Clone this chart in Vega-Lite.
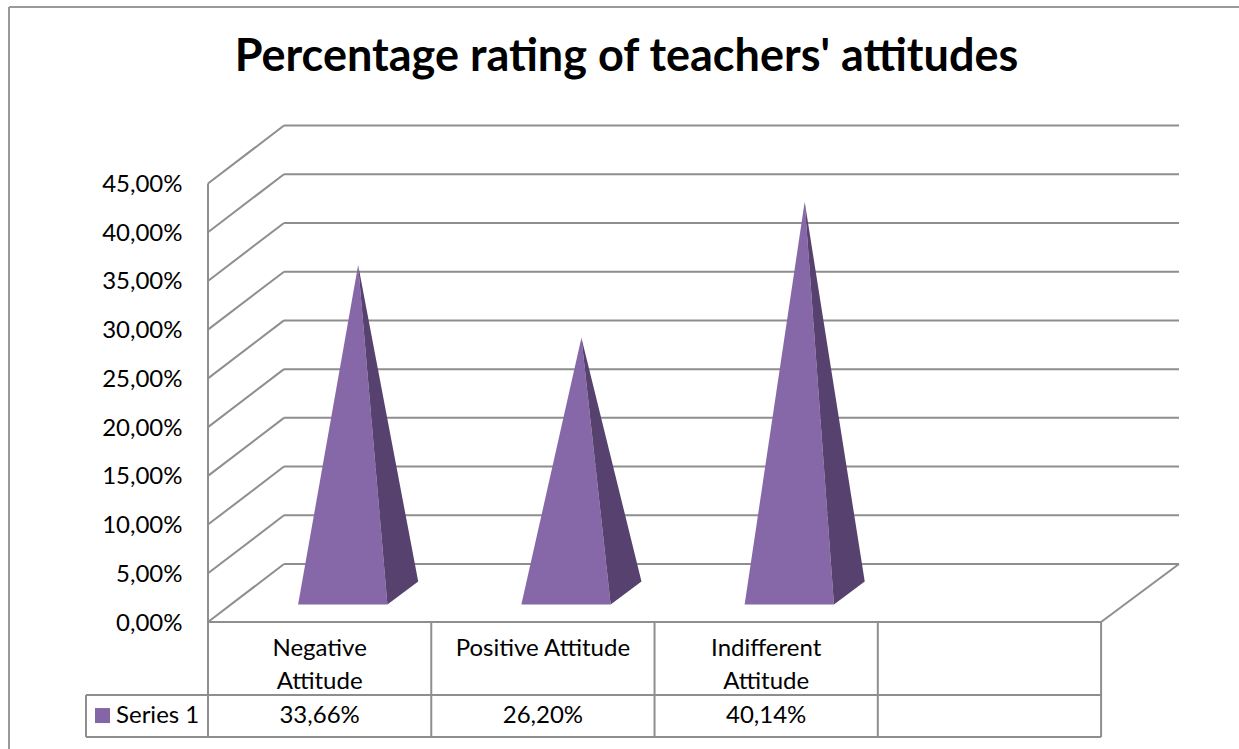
{
"$schema":"https://vega.github.io/schema/vega-lite/v6.json",
"autosize":"none",
"width":971,"height":496,
"padding":{"left":208,"top":126,"right":60,"bottom":127},
"background":"white",
"title":{"text":"Percentage rating of teachers' attitudes","font":"Lato","fontSize":45,"fontWeight":"bold","color":"#000000","anchor":"middle","frame":"group","dx":-67,"baseline":"alphabetic","offset":-110},
"config":{"view":{"stroke":null},"text":{"font":"Lato"},"axisY":{"grid":false,"domain":false,"ticks":false,"title":null,"labelFont":"Lato","labelFontSize":24,"labelColor":"#000000","labelPadding":26,"labelFlush":false,"labelOverlap":false,"labelOffset":1}},
"datasets":{
"attitudes":[
{"attitude":"Negative Attitude","label":"Negative\nAttitude","slot":0,"pct":33.66},
{"attitude":"Positive Attitude","label":"Positive Attitude","slot":1,"pct":26.20},
{"attitude":"Indifferent Attitude","label":"Indifferent\nAttitude","slot":2,"pct":40.14}
],
"ticks":[{"pct":0},{"pct":5},{"pct":10},{"pct":15},{"pct":20},{"pct":25},{"pct":30},{"pct":35},{"pct":40},{"pct":45}],
"columns":[{"slot":0},{"slot":1},{"slot":2},{"slot":3},{"slot":4}],
"tableRows":[{"row":-7.49},{"row":-11.8}]
},
"layer":[
{"data":{"values":[{}]},"mark":{"type":"rule","color":"#999999","strokeWidth":2},
 "encoding":{"x":{"datum":-0.8913,"type":"quantitative","scale":{"domain":[0,4.349],"nice":false,"zero":false},"axis":null},"x2":{"datum":4.618},
 "y":{"datum":63.12,"type":"quantitative","scale":{"domain":[0,50.9],"nice":false,"zero":false},"axis":{"values":[0,5,10,15,20,25,30,35,40,45],"labelExpr":"replace(format(datum.value,'.2f'),'.',',')+'%'","title":null}}}},
{"data":{"values":[{}]},"mark":{"type":"rule","color":"#999999","strokeWidth":2},
 "encoding":{"x":{"datum":-0.8913,"type":"quantitative","axis":null},"y":{"datum":63.12,"type":"quantitative"},"y2":{"datum":-13.03}}},
{"data":{"name":"ticks"},"transform":[{"calculate":"datum.pct+5.95","as":"back"}],"mark":{"type":"rule","color":"#8E8E8E","strokeWidth":2},
 "encoding":{"x":{"datum":0.3404,"type":"quantitative","axis":null},"x2":{"datum":4.349},"y":{"field":"back","type":"quantitative"}}},
{"data":{"name":"ticks"},"transform":[{"calculate":"datum.pct+5.95","as":"back"}],"mark":{"type":"rule","color":"#8E8E8E","strokeWidth":2},
 "encoding":{"x":{"datum":0,"type":"quantitative","axis":null},"x2":{"datum":0.3404},"y":{"field":"pct","type":"quantitative"},"y2":{"field":"back"}}},
{"data":{"values":[{}]},"mark":{"type":"rule","color":"#8E8E8E","strokeWidth":2},
 "encoding":{"x":{"datum":4,"type":"quantitative","axis":null},"x2":{"datum":4.349},"y":{"datum":0,"type":"quantitative"},"y2":{"datum":5.95}}},
{"data":{"values":[{}]},"mark":{"type":"rule","color":"#8E8E8E","strokeWidth":2},
 "encoding":{"x":{"datum":0,"type":"quantitative","axis":null},"y":{"datum":0,"type":"quantitative"},"y2":{"datum":45}}},
{"data":{"values":[{}]},"mark":{"type":"rule","color":"#8E8E8E","strokeWidth":2},
 "encoding":{"x":{"datum":0,"type":"quantitative","axis":null},"x2":{"datum":4},"y":{"datum":0,"type":"quantitative"}}},
{"data":{"name":"columns"},"mark":{"type":"rule","color":"#8E8E8E","strokeWidth":2},
 "encoding":{"x":{"field":"slot","type":"quantitative","axis":null},"y":{"datum":0,"type":"quantitative"},"y2":{"datum":-11.8}}},
{"data":{"name":"tableRows"},"mark":{"type":"rule","color":"#8E8E8E","strokeWidth":2},
 "encoding":{"x":{"datum":-0.5464,"type":"quantitative","axis":null},"x2":{"datum":4},"y":{"field":"row","type":"quantitative"}}},
{"data":{"values":[{}]},"mark":{"type":"rule","color":"#8E8E8E","strokeWidth":2},
 "encoding":{"x":{"datum":-0.5464,"type":"quantitative","axis":null},"y":{"datum":-7.49,"type":"quantitative"},"y2":{"datum":-11.8}}},
{"data":{"name":"attitudes"},
 "transform":[
  {"calculate":"[0,1,2]","as":"v"},{"flatten":["v"]},
  {"calculate":"datum.v==0?datum.slot+0.5-0.2+0.3*0.345:datum.v==1?datum.slot+0.5+0.5*0.345:datum.slot+0.5+0.2+0.3*0.345","as":"px"},
  {"calculate":"datum.v==1?datum.pct+0.5*5.95:0.3*5.95","as":"top"},
  {"calculate":"0.3*5.95","as":"base"}
 ],
 "mark":{"type":"area","orient":"vertical","color":"#8668A8","interpolate":"linear"},
 "encoding":{"x":{"field":"px","type":"quantitative","axis":null},"y":{"field":"top","type":"quantitative"},"y2":{"field":"base"},"detail":{"field":"slot"}}},
{"data":{"name":"attitudes"},
 "transform":[
  {"calculate":"[0,1,2]","as":"v"},{"flatten":["v"]},
  {"calculate":"datum.pct+0.5*5.95","as":"apex"},
  {"calculate":"datum.v==0?datum.slot+0.5+0.5*0.345:datum.v==1?datum.slot+0.5+0.2+0.3*0.345:datum.slot+0.5+0.2+0.7*0.345","as":"px"},
  {"calculate":"datum.v==0?datum.apex:datum.v==1?datum.apex+(0.7*5.95-datum.apex)*0.487:0.7*5.95","as":"top"},
  {"calculate":"datum.v==0?datum.apex:datum.v==1?0.3*5.95:0.7*5.95","as":"base"}
 ],
 "mark":{"type":"area","orient":"vertical","color":"#57426F","interpolate":"linear"},
 "encoding":{"x":{"field":"px","type":"quantitative","axis":null},"y":{"field":"top","type":"quantitative"},"y2":{"field":"base"},"detail":{"field":"slot"}}},
{"data":{"name":"attitudes"},"transform":[{"calculate":"datum.slot+0.5","as":"mid"}],
 "mark":{"type":"text","font":"Lato","fontSize":24,"color":"#000000","align":"center","baseline":"top","lineBreak":"\n","lineHeight":33},
 "encoding":{"x":{"field":"mid","type":"quantitative","axis":null},"y":{"datum":-1.5,"type":"quantitative"},"text":{"field":"label"}}},
{"data":{"name":"attitudes"},"transform":[{"calculate":"datum.slot+0.5","as":"mid"},{"calculate":"replace(format(datum.pct,'.2f'),'.',',')+'%'","as":"pctText"}],
 "mark":{"type":"text","font":"Lato","fontSize":24,"color":"#000000","align":"center","baseline":"middle"},
 "encoding":{"x":{"field":"mid","type":"quantitative","axis":null},"y":{"datum":-9.6,"type":"quantitative"},"text":{"field":"pctText"}}},
{"data":{"values":[{"series":"Series 1"}]},"mark":{"type":"square","color":"#8465A5","opacity":1,"size":225},
 "encoding":{"x":{"datum":-0.4725,"type":"quantitative","axis":null},"y":{"datum":-9.6,"type":"quantitative"}}},
{"data":{"values":[{"series":"Series 1"}]},"mark":{"type":"text","font":"Lato","fontSize":24,"color":"#000000","align":"left","baseline":"middle"},
 "encoding":{"x":{"datum":-0.412,"type":"quantitative","axis":null},"y":{"datum":-9.6,"type":"quantitative"},"text":{"field":"series"}}}
]
}
